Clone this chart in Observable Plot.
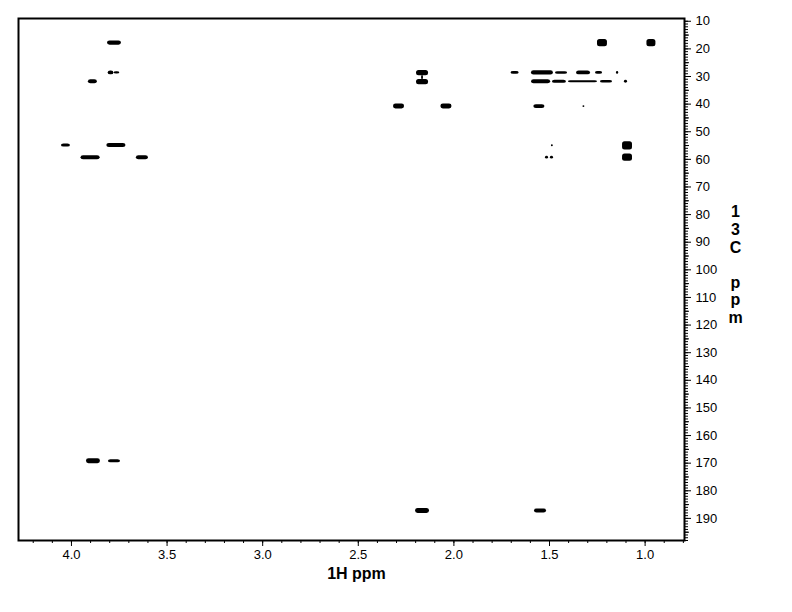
<!DOCTYPE html>
<html><head><meta charset="utf-8">
<script src="https://cdn.jsdelivr.net/npm/d3@7"></script>
<script src="https://cdn.jsdelivr.net/npm/@observablehq/plot@0.6"></script>
<style>body{margin:0;background:#fff}</style>
</head><body><div id="chart"></div>
<script>
// Cross peaks: 1H shift, 13C shift, extent along 1H (ppm), extent along 13C (ppm)
const peakH  = [3.775, 3.793, 3.762, 3.888, 4.029, 3.765, 3.900, 3.629,
                2.164, 2.164, 2.164, 2.287, 2.039,
                1.223, 0.967,
                1.680, 1.537, 1.437, 1.322, 1.241, 1.144,
                1.544, 1.448, 1.325, 1.202, 1.100,
                1.553, 1.320, 1.092, 1.092, 1.513, 1.487, 1.485,
                3.885, 3.775, 2.164, 1.547];
const peakC  = [17.9, 28.7, 28.7, 31.9, 55.0, 55.0, 59.4, 59.4,
                28.8, 30.4, 32.0, 40.9, 40.9,
                17.9, 17.9,
                28.7, 28.7, 28.7, 28.7, 28.7, 28.7,
                31.9, 31.9, 31.9, 31.9, 31.9,
                40.9, 40.9, 55.1, 59.4, 59.4, 59.4, 55.1,
                169.3, 169.3, 187.3, 187.3];
const peakDH = [0.073, 0.030, 0.030, 0.047, 0.047, 0.100, 0.100, 0.063,
                0.063, 0.010, 0.063, 0.058, 0.058,
                0.052, 0.047,
                0.042, 0.115, 0.063, 0.073, 0.037, 0.012,
                0.100, 0.073, 0.152, 0.063, 0.016,
                0.058, 0.010, 0.052, 0.052, 0.016, 0.016, 0.010,
                0.073, 0.063, 0.073, 0.063];
const peakDC = [1.5, 1.4, 0.8, 1.4, 1.1, 1.5, 1.5, 1.5,
                1.9, 1.6, 1.9, 1.8, 1.8,
                2.6, 2.6,
                1.0, 1.5, 0.9, 1.4, 1.0, 1.0,
                1.4, 1.1, 0.8, 0.9, 1.0,
                1.4, 0.7, 3.0, 2.6, 1.0, 1.0, 0.7,
                1.8, 1.1, 1.8, 1.4];

const xMajorTicks = [4.0, 3.5, 3.0, 2.5, 2.0, 1.5, 1.0];
const yMajorTicks = [10, 20, 30, 40, 50, 60, 70, 80, 90, 100, 110, 120, 130, 140, 150, 160, 170, 180, 190];
const xTitle = "1H ppm";
const yTitle = "13C ppm";

const peaks = peakH.map((h, i) => ({h, c: peakC[i], dh: peakDH[i], dc: peakDC[i]}));
const xMinor = d3.range(8, 43).map(i => i / 10);
const yMinor = d3.range(10, 199);
const yMid = d3.range(15, 196, 10);
const yTitleStacked = yTitle.split("").map(ch => ch === " " ? "\u00a0" : ch).join("\n");

const chart = Plot.plot({
  width: 792, height: 612,
  marginTop: 18, marginBottom: 72, marginLeft: 18, marginRight: 108,
  style: {fontFamily: "'Liberation Sans', Arial, sans-serif", fontSize: "13px", color: "black", background: "white"},
  x: {domain: [4.277, 0.794]},
  y: {domain: [198.0, 9.0]},
  marks: [
    Plot.axisX(xMinor, {tickSize: 3, tickFormat: () => "", label: null}),
    Plot.axisX(xMajorTicks, {tickSize: 6, tickPadding: 3, tickFormat: d3.format(".1f"), label: null}),
    Plot.axisY(yMinor, {anchor: "right", tickSize: 3, tickFormat: () => "", label: null}),
    Plot.axisY(yMid, {anchor: "right", tickSize: 4, tickFormat: () => "", label: null}),
    Plot.axisY(yMajorTicks, {anchor: "right", tickSize: 6, tickPadding: 5, textAnchor: "start", label: null}),
    Plot.rect(peaks, {
      x1: d => d.h + d.dh / 2, x2: d => d.h - d.dh / 2,
      y1: d => d.c - d.dc / 2, y2: d => d.c + d.dc / 2,
      fill: "black", rx: 2.5
    }),
    Plot.frame({stroke: "black", strokeWidth: 2}),
    Plot.text([xTitle], {frameAnchor: "bottom", dy: 38, dx: 5, fontWeight: "bold", fontSize: 16, fill: "black"}),
    Plot.text([yTitleStacked], {frameAnchor: "right", dx: 51, dy: -15, fontWeight: "bold", fontSize: 16, lineHeight: 1.1, textAnchor: "middle", fill: "black"})
  ]
});
document.getElementById("chart").appendChild(chart);
</script>
</body></html>
